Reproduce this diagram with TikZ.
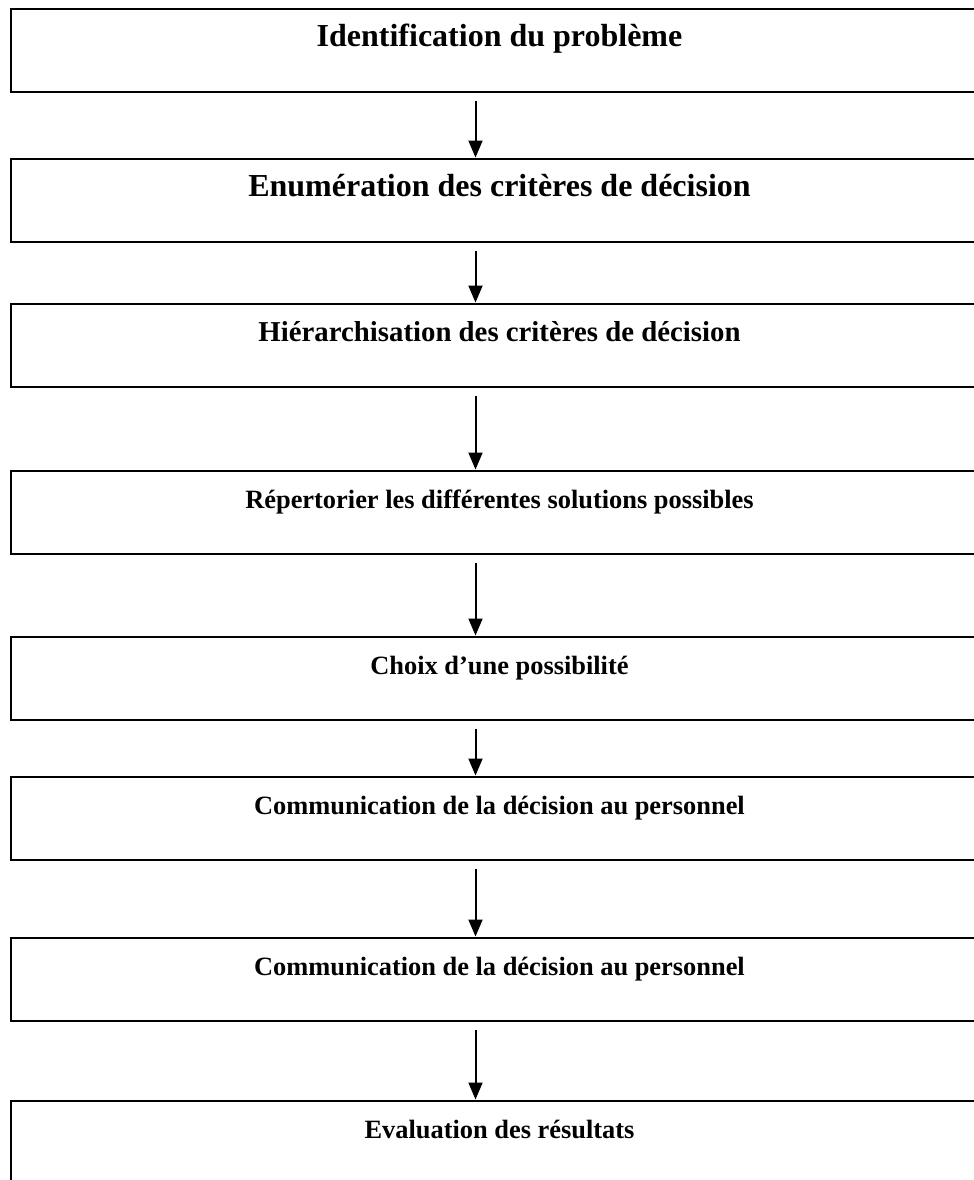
\documentclass[tikz,border=0pt]{standalone}
\usepackage{fontspec}
\setmainfont{Liberation Serif}
\usetikzlibrary{positioning, arrows.meta}

\begin{document}
\begin{tikzpicture}[> = {Triangle[width=7pt,length=8.5pt]}, % arrow head style
                shorten < = 4pt, % small gap under the upper box
                node distance = 30pt, % distance between boxes
                line width = 1pt % line style
            ]

            \tikzstyle{every node}=[draw = black, rectangle, anchor = north west,
            minimum width = 488.5pt, minimum height = 41.5pt, inner ysep = 0pt,
            text height = 19pt, text depth = 22.5pt,
            font = \bfseries\fontsize{13.2}{16}\selectfont]
            \tikzstyle{big}=[font = \bfseries\fontsize{16}{19}\selectfont]
            \tikzstyle{mid}=[font = \bfseries\fontsize{14.4}{17}\selectfont]

            \useasboundingbox (0,0) rectangle (487pt,-590pt);

            \node (1) [big] at (5pt,-3.75pt) {Identification du probl\`eme};
            \node (2) [big, below=32.5pt of 1] {Enum\'eration des crit\`eres de d\'ecision};
            \node (3) [mid, below=30pt of 2] {Hi\'erarchisation des crit\`eres de d\'ecision};
            \node (4) [below=41pt of 3] {R\'epertorier les diff\'erentes solutions possibles};
            \node (5) [below=40.5pt of 4] {Choix d’une possibilit\'e};
            \node (6) [below=27.5pt of 5] {Communication de la d\'ecision au personnel};
            \node (7) [below=38pt of 6] {Communication de la d\'ecision au personnel};
            \node (8) [below=39pt of 7] {Evaluation des r\'esultats};


            \path[->] ([xshift=-12pt]1.south) edge ([xshift=-12pt]2.north);
            \path[->] ([xshift=-12pt]2.south) edge ([xshift=-12pt]3.north);
            \path[->] ([xshift=-12pt]3.south) edge ([xshift=-12pt]4.north);
            \path[->] ([xshift=-12pt]4.south) edge ([xshift=-12pt]5.north);
            \path[->] ([xshift=-12pt]5.south) edge ([xshift=-12pt]6.north);
            \path[->] ([xshift=-12pt]6.south) edge ([xshift=-12pt]7.north);
            \path[->] ([xshift=-12pt]7.south) edge ([xshift=-12pt]8.north);
        \end{tikzpicture}
\end{document}
